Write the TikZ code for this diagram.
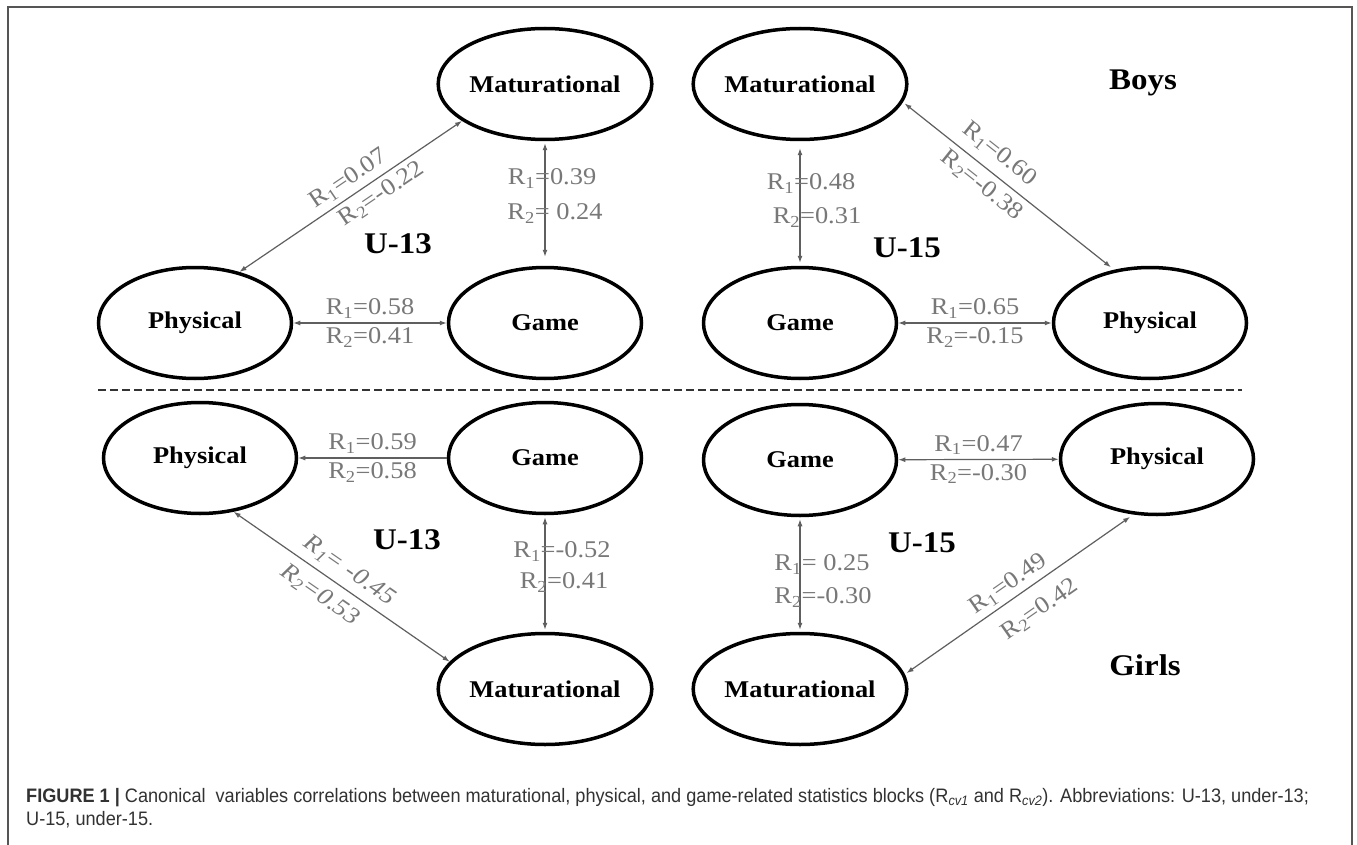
\documentclass[tikz,border=0pt]{standalone}
\usepackage{fontspec}
\setmainfont[FakeStretch=1.1]{Liberation Serif}
\newfontfamily\capfont[FakeStretch=0.93]{Liberation Sans}
\usetikzlibrary{
  arrows.meta,
  calc,
  positioning,
  shapes,
}
\definecolor{linkgray}{RGB}{95,95,95}
\definecolor{labelgray}{RGB}{120,120,120}
\definecolor{framegray}{RGB}{85,85,85}
\definecolor{captiongray}{RGB}{50,50,50}
\tikzstyle{block} = [
  ellipse,
  draw=black,
  line width=3.5pt,
  minimum width=193pt,
  minimum height=111pt,
  inner sep=0pt,
  font=\fontsize{24}{28}\selectfont\bfseries,
]
\tikzstyle{link} = [
  {Latex[length=7pt,width=5pt]}-{Latex[length=7pt,width=5pt]},
  line width=1.2pt,
  linkgray,
]
\tikzstyle{oneway} = [
  -{Latex[length=7pt,width=5pt]},
]
\tikzstyle{rlab} = [
  font=\fontsize{24}{27}\selectfont,
  text=labelgray,
  inner sep=2pt,
]
\tikzstyle{group} = [
  font=\fontsize{30}{34}\selectfont\bfseries,
]
\newcommand{\Rv}[1]{R\textsubscript{#1}}

\begin{document}
\begin{tikzpicture}[x=1pt, y=-1pt]

        \useasboundingbox (0,0) rectangle (1357,845);
        \fill [white] (0,0) rectangle (1357,845);
        \draw [framegray, line width=1.5pt] (8,845) -- (8,7) -- (1352,7) -- (1352,845);

        % boys, U-13
        \node [block] (matA) at (545,84) {Maturational};
        \node [block] (phyA) at (195,323) {Physical};
        \node [block] (gamA) at (545,323) {Game};
        \node [group] (uA) at (398,244) {U-13};

        \draw [link] (phyA.49) -- (matA.204)
              node [pos=0.53, sloped, above=3pt, rlab] {\Rv{1}=0.07}
              node [pos=0.60, sloped, below=3pt, rlab] {\Rv{2}=-0.22};
        \draw [link, shorten <=2pt, shorten >=9pt] (matA) -- (gamA)
              node [pos=0.30, xshift=7pt, rlab] {\Rv{1}=0.39}
              node [pos=0.58, xshift=10pt, rlab] {\Rv{2}= 0.24};
        \draw [link] (phyA) -- (gamA)
              node [midway, above=2pt, rlab] {\Rv{1}=0.58}
              node [midway, below=2pt, rlab] {\Rv{2}=0.41};

        % boys, U-15
        \node [block] (matB) at (800,84) {Maturational};
        \node [block] (gamB) at (800,323) {Game};
        \node [block] (phyB) at (1150,323) {Physical};
        \node [group] (uB) at (907,248) {U-15};
        \node [group] (boys) at (1143,83) {Boys};

        \draw [link, shorten <=2pt, shorten >=4pt] (matB.350) -- (phyB.124)
              node [pos=0.40, sloped, above=7pt, rlab] {\Rv{1}=0.60}
              node [pos=0.42, sloped, below=4pt, rlab] {\Rv{2}=-0.38};
        \draw [link, shorten <=7pt, shorten >=3pt] (matB) -- (gamB)
              node [pos=0.34, xshift=11pt, rlab] {\Rv{1}=0.48}
              node [pos=0.61, xshift=17pt, rlab] {\Rv{2}=0.31};
        \draw [link] (gamB) -- (phyB)
              node [midway, above=2pt, rlab] {\Rv{1}=0.65}
              node [midway, below=2pt, rlab] {\Rv{2}=-0.15};

        \draw [dashed, dash pattern=on 8pt off 4pt, line width=1.8pt, black!80]
              (98,390) -- (1242,390);

        % girls, U-13
        \node [block] (phyC) at (200,458) {Physical};
        \node [block] (gamC) at (545,458) {Game};
        \node [block] (matC) at (545,689) {Maturational};
        \node [group] (uC) at (407,540) {U-13};

        \draw [link, oneway] (gamC) -- (phyC)
              node [midway, above=2pt, rlab] {\Rv{1}=0.59}
              node [midway, below=2pt, rlab] {\Rv{2}=0.58};
        \draw [link] (phyC.302) -- (matC.164)
              node [pos=0.49, sloped, above=5pt, rlab, font=\fontsize{24}{27}\selectfont\itshape] {\Rv{1}= -0.45}
              node [pos=0.45, sloped, below=7pt, rlab, font=\fontsize{24}{27}\selectfont\itshape] {\Rv{2}=0.53};
        \draw [link, shorten <=2pt, shorten >=2pt] (gamC) -- (matC)
              node [pos=0.31, xshift=17pt, rlab] {\Rv{1}=-0.52}
              node [pos=0.58, xshift=19pt, rlab] {\Rv{2}=0.41};

        % girls, U-15
        \node [block] (gamD) at (800,460) {Game};
        \node [block] (phyD) at (1157,459) {Physical};
        \node [block] (matD) at (800,689) {Maturational};
        \node [group] (uD) at (922,543) {U-15};
        \node [group] (girls) at (1145,665) {Girls};

        \draw [link] (gamD) -- (phyD)
              node [midway, above=2pt, rlab] {\Rv{1}=0.47}
              node [midway, below=2pt, rlab] {\Rv{2}=-0.30};
        \draw [link, shorten <=2pt, shorten >=2pt] (gamD) -- (matD)
              node [pos=0.41, xshift=22pt, rlab] {\Rv{1}= 0.25}
              node [pos=0.70, xshift=23pt, rlab] {\Rv{2}=-0.30};
        \draw [link, shorten <=2pt, shorten >=4pt] (matD.8) -- (phyD.247)
              node [pos=0.49, sloped, above=2pt, rlab] {\Rv{1}=0.49}
              node [pos=0.53, sloped, below=12pt, rlab] {\Rv{2}=0.42};

        % caption
        \node [anchor=base west, inner sep=0pt, text=captiongray,
               font=\capfont\fontsize{19.5}{23}\selectfont] (cap1) at (26,802)
              {{\bfseries FIGURE 1 |} Canonical\ \ variables correlations between maturational, physical, and game-related statistics blocks (R\textsubscript{\itshape cv1} and R\textsubscript{\itshape cv2}). Abbreviations: U-13, under-13;};
        \node [anchor=base west, inner sep=0pt, text=captiongray,
               font=\capfont\fontsize{19.5}{23}\selectfont] (cap2) at (26,825)
              {U-15, under-15.};

      \end{tikzpicture}
\end{document}
